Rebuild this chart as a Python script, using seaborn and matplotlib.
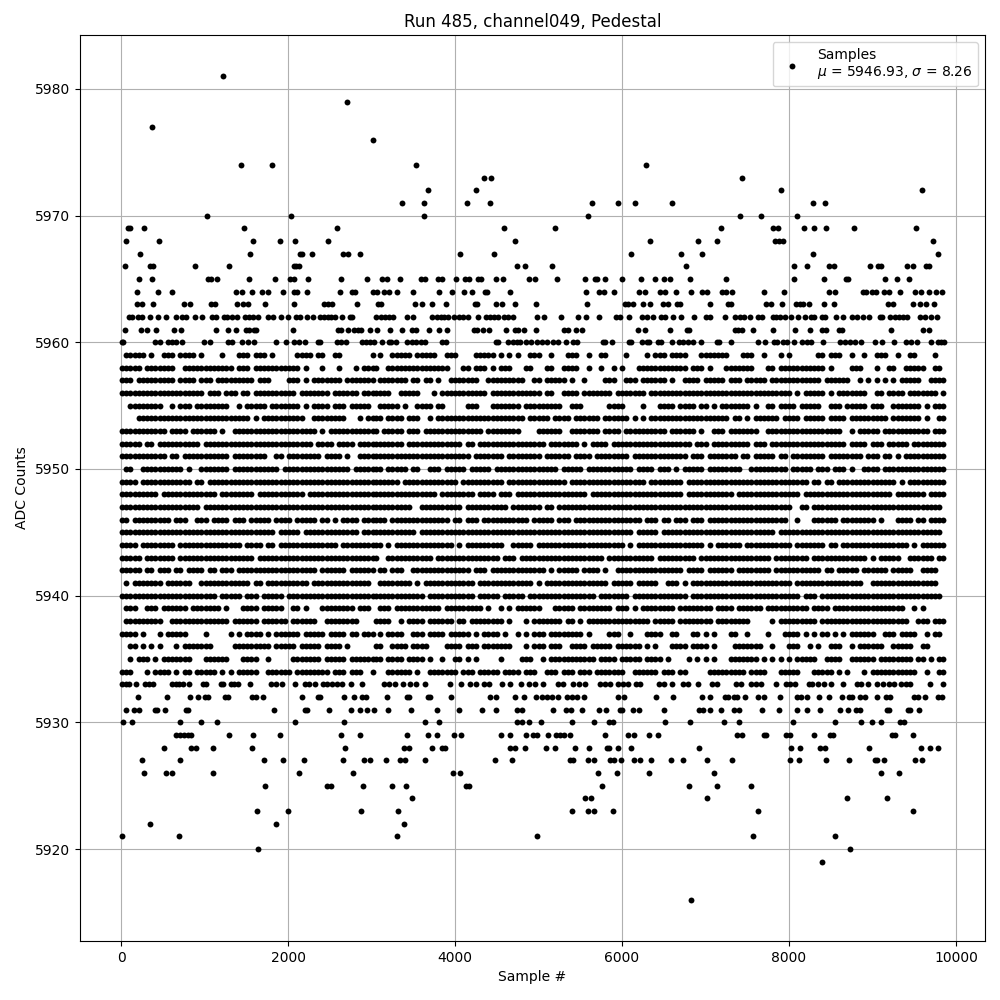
import matplotlib
matplotlib.use('Agg')
import matplotlib.pyplot as plt
import pandas as pd
import seaborn as sns

# outer rows, read dot by dot: ADC level -> sample numbers
top_levels = [5981, 5979, 5977, 5976, 5974, 5973, 5972, 5971, 5970, 5969, 5968, 5967, 5966, 5965, 5964, 5963, 5962, 5961, 5960]
top_samples = [
    [1220],
    [2712],
    [368],
    [3012],
    [1436, 1808, 3528, 6288],
    [4344, 4428, 7440],
    [3672, 4248, 7904, 9596],
    [3360, 3624, 4140, 4416, 5640, 5952, 6156, 6600, 8288, 8432],
    [1028, 2036, 3624, 5592, 7416, 7664, 8096],
    [80, 112, 272, 1472, 2592, 4584, 5196, 7188, 7808, 7868, 8180, 8300, 8444, 8780, 9524],
    [56, 452, 1580, 1904, 2084, 2484, 4716, 6336, 6912, 7140, 7832, 7880, 7928, 9728],
    [224, 1544, 2140, 2168, 2288, 2660, 2724, 2860, 4056, 4464, 6108, 6708, 6960, 8288, 9788],
    [44, 348, 380, 884, 1292, 2068, 2100, 2132, 4740, 4836, 5160, 6768, 8060, 8216, 8480, 8540, 8972, 9068, 9104, 9416, 9488, 9644, 9680],
    [212, 368, 1040, 1072, 1148, 1532, 1844, 2024, 2076, 2240, 2640, 2952, 3120, 3180, 3336, 3588, 3636, 3792, 3840, 4008, 4116, 4164, 4272, 4308, 4488, 4572, 4892, 4956,
     5220, 5556, 5676, 5700, 5796, 6000, 6228, 6396, 6504, 6576, 6816, 7248, 8060, 8420, 8684, 8708, 9152, 9296, 9440],
    [188, 440, 608, 1376, 1448, 1568, 1688, 1760, 1940, 2072, 2108, 2228, 2628, 2772, 2808, 3012, 3060, 3144, 3204, 3300, 3492, 3804, 3960, 4104, 4200, 4356, 4384, 4656,
     5568, 5724, 5784, 5904, 6204, 6276, 6456, 6516, 6648, 6828, 6960, 7020, 7200, 7248, 7320, 7700, 7940, 8480, 8552, 8888, 8924, 8996, 9044, 9140, 9200, 9332, 9512, 9584, 9680, 9764, 9836],
    [188, 248, 380, 752, 824, 1076, 1128, 1388, 1460, 1520, 1724, 2072, 2436, 2484, 2532, 2832, 3072, 3108, 3516, 3600, 3720, 3888, 4236, 4260, 4488, 4560, 4716, 4968,
     5580, 6036, 6072, 6132, 6252, 6336, 6492, 6552, 6660, 6696, 7056, 7272, 7308, 7724, 7784, 7916, 8084, 8132, 8168, 8240, 8420, 8540, 9188, 9248, 9488, 9572, 9644, 9740],
    [92, 128, 200, 248, 344, 448, 536, 656, 728, 780, 884, 968, 1088, 1136, 1232, 1268, 1328, 1384, 1484, 1532, 1580, 1640, 1760, 1820, 1916, 2000, 2100, 2140, 2228, 2300, 2388,
     2436, 2484, 2520, 2568, 2652, 2748, 2772, 3048, 3108, 3156, 3204, 3252, 3420, 3492, 3720, 3780, 3828, 3864, 3912, 3984, 4044, 4092, 4152, 4272, 4368, 4416, 4464, 4512, 4584, 4632, 4692, 4980,
     5064, 5268, 5472, 5568, 5724, 5928, 5976, 6084, 6240, 6300, 6372, 6468, 6516, 6612, 6708, 6864, 7008, 7056, 7236, 7356, 7416, 7464, 7528, 7628, 7676,
     7808, 7844, 7892, 7952, 8024, 8108, 8192, 8264, 8300, 8396, 8432, 8564, 8648, 8756, 8816, 8888, 8960, 9092, 9116, 9212, 9272, 9320, 9368, 9416, 9572, 9632, 9704, 9776],
    [52, 236, 308, 416, 632, 716, 1136, 1280, 1376, 1496, 1532, 1592, 1616, 2060, 2604, 2640, 2724, 2796, 2844, 2880, 2976, 3060, 3216, 3360, 3480, 3528, 3684, 3804, 3900, 4224, 4260, 4332, 4404, 4608, 4716, 4752, 4824, 4968,
     5304, 5352, 5448, 5520, 6192, 6276, 6576, 6780, 6804, 7356, 7392, 7440, 7568, 7808, 8072, 8252, 8396, 8444, 8600, 8636, 9224, 9608, 9680],
    [12, 28, 404, 464, 560, 608, 656, 728, 992, 1064, 1280, 1328, 1448, 1520, 1592, 1856, 1976, 2072, 2132, 2204, 2360, 2388, 2592, 2640, 2700, 2892, 2940, 2976, 3024, 3120, 3204, 3228, 3288,
     3420, 3480, 3528, 3588, 3636, 3840, 3888, 4488, 4512, 4632, 4692, 4740, 4776, 4848, 4908, 4980, 5040, 5100, 5172, 5232, 5328, 5412, 5460, 5772, 5796, 5880, 6084, 6108, 6240, 6300, 6324,
     6432, 6468, 6600, 6684, 6732, 6792, 6852, 6948, 7140, 7164, 7308, 7628, 7712, 7820, 7856, 7928, 7976, 8060, 8156, 8216, 8264, 8408, 8612, 8672, 8732, 8792, 8864, 9032, 9116, 9260, 9404, 9464, 9536, 9704, 9788, 9824, 9860],
]

low_levels = [5933, 5932, 5931, 5930, 5929, 5928, 5927, 5926, 5925, 5924, 5923, 5922, 5921, 5920, 5919, 5916]
low_samples = [
    [12, 56, 92, 176, 284, 332, 380, 608, 656, 692, 740, 812, 980, 1016, 1196, 1220, 1316, 1352, 1400, 1544, 1796, 1856, 1928, 2084, 2204, 2252, 2324, 2424, 2472, 2532, 2592, 2652, 2760, 2892,
     3144, 3204, 3276, 3372, 3456, 3528, 3636, 3936, 4068, 4176, 4248, 4344, 4404, 4560, 4656, 4788, 4884, 4956, 5052, 5232, 5292, 5412, 5484, 5556, 5736, 5796, 5856, 5952, 6012, 6072, 6168, 6216,
     6444, 6504, 6600, 6732, 6792, 6912, 7080, 7140, 7368, 7428, 7544, 7604, 7664, 7844, 7964, 8012, 8072, 8240, 8276, 8348, 8420, 8504, 8648, 8816, 8864, 8948, 9056, 9128, 9200, 9260, 9344, 9404, 9452, 9692, 9848],
    [200, 548, 824, 920, 1004, 1040, 1244, 1280, 1568, 1616, 1700, 2168, 2360, 2388, 2676, 2796, 2892, 2940, 3180, 3420, 3444, 3672, 3696, 3948, 4416, 4488, 4716, 4824, 4968, 5040, 5100, 5160, 5232, 5340, 5400, 5460, 5544,
     5952, 6024, 6408, 6612, 6960, 7056, 7236, 7272, 7344, 7380, 7476, 7628, 7700, 7892, 8096, 8144, 8216, 8360, 8480, 8636, 8720, 8756, 8852, 8912, 9056, 9164, 9212, 9500, 9548, 9632, 9788, 9836],
    [56, 152, 212, 404, 428, 524, 776, 800, 1832, 2204, 2228, 2496, 2760, 2868, 2952, 3024, 3192, 3468, 3780, 4044, 4320, 4488, 4740, 4800, 5172, 5328, 5388, 5520, 5724, 5808, 5976, 6000, 6132, 6204, 6504, 6924, 6972, 7056, 7188, 7344, 7404,
     7676, 7880, 8096, 8216, 8372, 8612, 8708, 8804, 8852, 9176, 9200, 9428, 9452, 9560],
    [20, 128, 704, 956, 1148, 2084, 2676, 3636, 3804, 4740, 4800, 4884, 5028, 5400, 5664, 5844, 5892, 6516, 6816, 7224, 7404, 8048, 8552, 8864, 8996, 9104, 9332, 9380],
    [656, 704, 752, 800, 836, 1292, 1580, 1904, 2640, 2868, 3420, 3672, 3780, 3984, 4068, 4548, 4656, 4848, 4932, 4980, 5112, 5208, 5256, 5304, 5376, 5796, 6072, 6144, 6324, 6432, 7380, 7440, 7700, 7724, 7964, 8012, 8300, 8492, 8528, 9236, 9272, 9488],
    [512, 836, 896, 1100, 1568, 2688, 3384, 3444, 3720, 3840, 3876, 4656, 4716, 4836, 5088, 5196, 5436, 5604, 5820, 5844, 5952, 6108, 6924, 8024, 8132, 8372, 8432, 8960, 9584, 9692, 9788],
    [248, 704, 1712, 1940, 2192, 2664, 2916, 2976, 3168, 3336, 3396, 3636, 4476, 4680, 5376, 5412, 5592, 5664, 5856, 5904, 5988, 6144, 6216, 6348, 6588, 6732, 7020, 7320, 8012, 8120, 8444, 8720, 9032, 9056, 9140, 9512, 9596],
    [272, 536, 608, 1100, 2132, 2784, 3972, 4056, 5712, 5940, 6324, 7104, 9104, 9320],
    [1724, 2472, 2520, 2904, 3240, 3408, 4128, 4164, 5760, 6804, 7140, 7548],
    [3480, 5556, 5628, 7020, 8696, 9176],
    [1628, 2000, 2880, 3312, 5400, 5592, 5664, 5892, 7632, 9488],
    [344, 1856, 3384],
    [8, 692, 3300, 4980, 7572, 8552],
    [1640, 8732],
    [8396],
    [6828],
]

# middle rows are too packed to list: one character per 50 samples, # = dot
band_levels = [5959, 5958, 5957, 5956, 5955, 5954, 5953, 5952, 5951, 5950, 5949, 5948, 5947, 5946, 5945, 5944, 5943, 5942, 5941, 5940, 5939, 5938, 5937, 5936, 5935, 5934]
band_a = [
    ".#####.#..###.####.#....#...###.###.#.....####.##..##.......##",
    "#####.#######..############.###.###########.#...#...#...#.####",
    "###.#########.####.###.#########.###....###.#.#######.###########",
    "####################.###.###.##.##########.#######.######.########",
    "..########..#.###.########..#.#####.#######.#.####.###.#####.#.##",
    "....###########################.#.##########..########...#.####",
    "###########.####.######.#..####################.#.#############",
    "#####.##.##########.##########################.####.####.#######",
    "###########.##.###########.########..##.########.####.#..########",
    ".##..##########.#..#######.###########.################.#######",
    "####.############.##.###############################################",
    "#########.#############.########.###########.#################",
    "###################.###########################################",
    "##.#########.###..###.####.###.#####.####.#####.##.#.####.#####",
    "#####################################.#####.#############.######",
    "####.########.###############.####.##.##############.############",
    "#####.#######.##################.#############################",
    "#####.##.###.##.####.##.###.###################.######.#########",
    ".#.#######.######..############.##.##########.##############...",
    "#######################.#####.###.#####.#####################.##",
    ".###..###.######.#######.#...####.#####..##.#...########.###.#.#",
    ".#########..##############.######.######.######..########.....##",
    "####.#...#.#####....#.....#.#.####.#.######.#####.####.##.###...",
    "..##.#.#.#...#.#######.....#########.#####.#####.####.#.......##",
    "..#.###.#.#######...######...####..#.....#######.#####.######..",
    "###...#.####.#.##.#####.#.#.#####..######.########.###.###..#..",
]
band_b = [
    ".#..#####.#####..###....#####.#.#.#..###..#...###..#..##....#....#.###",
    "#..###############...##.###.#.###...##...##..####..#..#..#.#...#######",
    ".#######.##.##.#..#######..#########..##.#####.#..#....###..###.######",
    "####..#####...#.###########.############.##..####.#######.#######.###.",
    ".#####.#..####.##.....###...#######.#########..###......####....#...##",
    "##.####.###..#.#####################.#####.####.######.######.#.#.#######",
    "#.#####.###.##############.########....######..#######.####.#########.",
    "#######.#############.##.################.#######.#.####.###############",
    "#######################.#######.########.######.####.########.#########",
    "##.#####.##..###.#####.#####.###############.#####.###########.####.#.#",
    "######.#############.##########.##############.##################.#######",
    "###############.########.####.###.#################.######################",
    "#########..##########.##########.#######.##.##########################",
    "###.##############.##.###.###########.#####.###.################.###.###",
    "##########.###################################################.#####",
    "##.#.##############.#.#########..#####.#####################.#.#########",
    "#..###########.###############.###.####################.###########.#..",
    ".##.###..##############.###.#############.#.#####.####.#..##############",
    ".########.#.############.#############.#.###############.#####.#####.#.#.#",
    "############.###########.#####.#####.################.#######.#########",
    ".###.###########.#########.#..#.#.######...#####.########.###.#.#########",
    "####..#.####.######.##.########.#...#.#######.##.#.###############.#####",
    ".#.####..###.####.#####.#.####.#..#.#.###.########.#....###..#...####..",
    "##..####.####....####.###.#######...#.###.###..####.#####.######.#.#..#",
    "##.####.####.#..#..##.#.#.....#....###..#.###########.####.#####.####",
    "...######.#..#######.###.#####.####.###..###.###.###.#######..######.##..####",
]
band_c = [
    "#.####...#######...###..#...#.#......##.###..#..#..###..#..##....#..",
    "######.###.#...#######...##.###########.#....###...#..##..#####..##",
    "#.#..####.#####.###.#####.############.######..#.#.#.#.#.#####..######",
    "###############################.#.#####.#.#######..##.####.#######.###",
    "###.####.##.#.#######.#..##.####.#####..###.#####.###..#######.#.####",
    "################.##.#.######.####.#####.####.#########.#######.#..##",
    "#.######.#..###.#######..##################..#.#####.###########.###",
    "#######.###.#########.###.##################.####.###.#####.###########",
    "######.###.#######.##.#####.##.########.########.###.##.#.############",
    "##.#.#####.########..#########.#####.###.###.#..####.##################",
    "#####.#############################.##.##.##############.#.############",
    "#####.###########.###############.#####################.#######.#######",
    "###############################..##.###############################.#",
    "##.###.###.###################..#...######.########.#...####.##.#######",
    "###########################.#######################################",
    "##########.#.######.###########.#######.##.################.#.########",
    "########.#################.########.#############.#.#####..######.####",
    "#####.####.######.########.###########.##.#####.######.#####..####",
    ".###.#.########################.################..################",
    "######.##########################.###.#############################",
    "###.########.####.######.##########.####.#################..#.#",
    "###.########.########.....#.#########.#####################..###.#####",
    "..##...##.#.#...##..#....#...####.#.#.##.#.#.######..###.####..#.##..",
    "..####.####.#....#######..#...###..#.#..###..#.######..#####..##..",
    ".#....#.#.#.#...#######.#.#.#.#.#####..####..######.########.##.#.####",
    "###.##.....#########.####...#####...#####.#.#...#.###########..#..##..",
]
band_starts = [12, 3050, 6500]
band_ends = [3050, 6500, 9860]

title = 'Run 485, channel049, Pedestal'
legend_label = 'Samples\n$\\mu$ = 5946.93, $\\sigma$ = 8.26'

xs, ys = [], []
for level, samples in zip(top_levels + low_levels, top_samples + low_samples):
    for s in samples:
        xs.append(s)
        ys.append(level)

for band, start, end in zip([band_a, band_b, band_c], band_starts, band_ends):
    for level, row in zip(band_levels, band):
        for i, ch in enumerate(row):
            if ch == '#' and start + i * 50 < end:
                xs.append(start + i * 50)
                ys.append(level)

df = pd.DataFrame({'sample': xs, 'adc': ys})

fig, ax = plt.subplots(figsize=(10, 10), dpi=100)
sns.scatterplot(data=df, x='sample', y='adc', color='black', s=18, linewidth=0, zorder=2, label=legend_label, ax=ax)
ax.set_xlim(-497, 10347)
ax.set_ylim(5912.75, 5984.25)
ax.set_title(title)
ax.set_xlabel('Sample #')
ax.set_ylabel('ADC Counts')
ax.grid(True)
ax.legend(loc='upper right')
fig.subplots_adjust(left=0.0795, right=0.985, top=0.965, bottom=0.059)
plt.savefig('out.png')
